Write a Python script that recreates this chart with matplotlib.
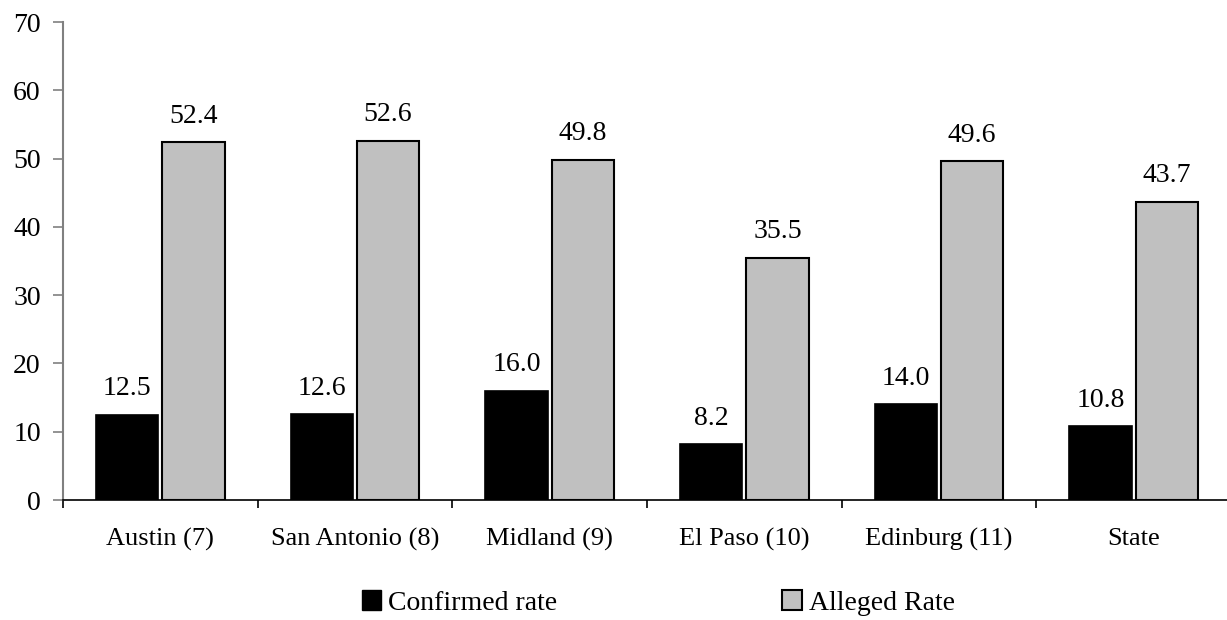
import matplotlib.pyplot as plt
import numpy as np
from matplotlib.patches import Patch

plt.rcParams['font.family'] = ['Liberation Serif', 'DejaVu Serif']

# data
regions = ["Austin (7)", "San Antonio (8)", "Midland (9)", "El Paso (10)", "Edinburg (11)", "State"]
confirmed = [12.5, 12.6, 16.0, 8.2, 14.0, 10.8]
alleged = [52.4, 52.6, 49.8, 35.5, 49.6, 43.7]
yticks = [0, 10, 20, 30, 40, 50, 60, 70]

W, H = 1227, 620
fig = plt.figure(figsize=(W / 100, H / 100), dpi=100)
ax = fig.add_axes([63 / W, 1 - 500 / H, (1231 - 63) / W, (500 - 22) / H])

x = np.arange(len(regions))
bw = 0.32
off = 0.17
b1 = ax.bar(x - off, confirmed, bw, color='black', edgecolor='black', linewidth=1.2)
b2 = ax.bar(x + off, alleged, bw, color='#c0c0c0', edgecolor='black', linewidth=1.5)

for xi, v in zip(x - off, confirmed):
    ax.annotate(f"{v:.1f}", (xi, v), xytext=(0, 14), textcoords='offset points',
                ha='center', va='baseline', fontsize=20)
for xi, v in zip(x + off, alleged):
    ax.annotate(f"{v:.1f}", (xi, v), xytext=(0, 14), textcoords='offset points',
                ha='center', va='baseline', fontsize=20)

ax.set_xlim(-0.5, len(regions) - 0.5)
ax.set_ylim(0, 70)
ax.set_yticks(yticks)
ax.set_xticks(x)
ax.set_xticklabels(regions)
ax.set_xticks(np.arange(len(regions) + 1) - 0.5, minor=True)

ax.spines['top'].set_visible(False)
ax.spines['right'].set_visible(False)
ax.spines['left'].set_color('#808080')
ax.spines['left'].set_linewidth(1.5)
ax.spines['bottom'].set_linewidth(1.2)
ax.tick_params(axis='y', direction='out', length=7, width=1.2, color='#808080',
               labelsize=20, pad=9)
ax.tick_params(axis='x', which='major', length=0, labelsize=19, pad=20)
ax.tick_params(axis='x', which='minor', length=6, width=1.2, color='black')

handles = [Patch(facecolor='black', edgecolor='black', label='Confirmed rate'),
           Patch(facecolor='#c0c0c0', edgecolor='black', linewidth=1.5, label='Alleged Rate')]
fig.legend(handles=handles, loc='center', bbox_to_anchor=(0.5366, 1 - 603 / H), ncol=2,
           frameon=False, fontsize=20, handlelength=0.7, handleheight=0.7,
           handletextpad=0.25, columnspacing=8.1, borderpad=0, borderaxespad=0)

fig.savefig('out.png', dpi=100)
